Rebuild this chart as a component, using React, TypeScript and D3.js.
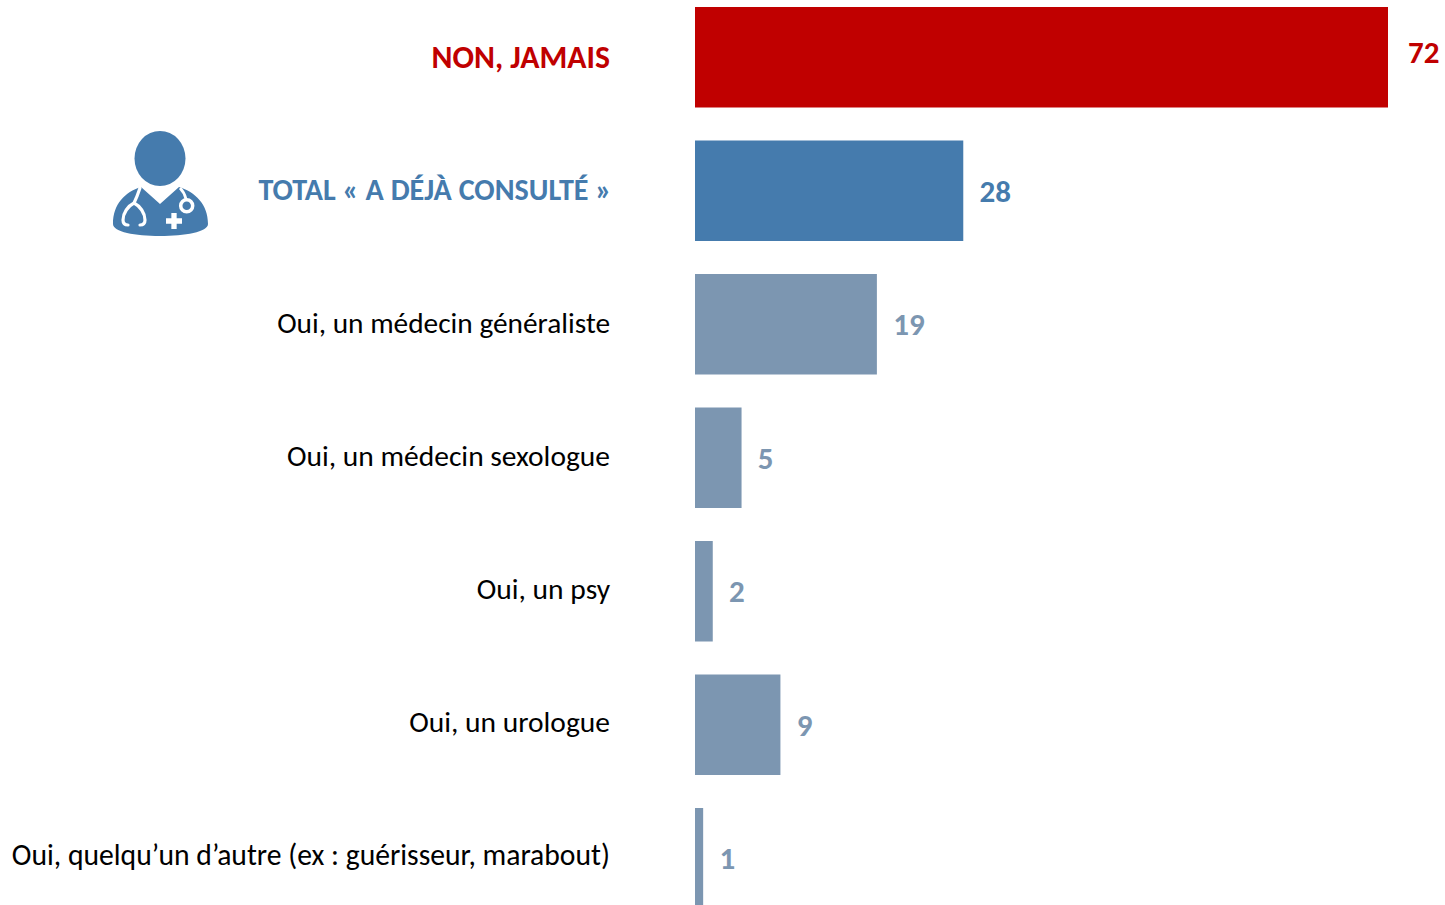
import React from "react";
import * as d3 from "d3";

const categories = [
  "NON, JAMAIS",
  "TOTAL « A DÉJÀ CONSULTÉ »",
  "Oui, un médecin généraliste",
  "Oui, un médecin sexologue",
  "Oui, un psy",
  "Oui, un urologue",
  "Oui, quelqu’un d’autre (ex : guérisseur, marabout)",
];
const values = [72.2, 27.95, 18.95, 4.85, 1.85, 8.9, 0.85];
const valueLabels = ["72", "28", "19", "5", "2", "9", "1"];
const barColors = ["#c00000", "#457bad", "#7c96b1", "#7c96b1", "#7c96b1", "#7c96b1", "#7c96b1"];
const textColors = ["#c00000", "#457bad", "#000000", "#000000", "#000000", "#000000", "#000000"];
const boldFlags = [true, true, false, false, false, false, false];
const labelSizes = [31.8, 30.1, 29.35, 29.5, 29.5, 29.5, 29.65];

const FONT = "Carlito, Calibri, Lato, sans-serif";

function DoctorIcon({ x, y }: { x: number; y: number }) {
  const c = "#457bad";
  return (
    <g transform={`translate(${x},${y})`}>
      <ellipse cx={70} cy={38.5} rx={25.5} ry={27.5} fill={c} />
      <path
        d="M51 67 L70 84 L89 67 C105 72 118 84 118 104 C118 112 95 116 70 116 C45 116 23 112 23 104 C23 84 35 72 51 67 Z"
        fill={c}
      />
      <path
        d="M50 68 C48 74 46 79 44 83 C38 86 33 93 33 100 C33 104 35 105 38 105 M44 83 C50 86 55 93 55 100 C55 104 53 105 50 105"
        fill="none"
        stroke="#fff"
        strokeWidth={3.2}
        strokeLinecap="round"
      />
      <path d="M90 68 C93 71 95 75 96 79" fill="none" stroke="#fff" strokeWidth={2.8} />
      <circle cx={96.7} cy={85.7} r={6} fill={c} stroke="#fff" strokeWidth={3.5} />
      <path d="M84 93 V109 M76 101 H92" stroke="#fff" strokeWidth={5.3} fill="none" />
    </g>
  );
}

export default function App() {
  const x = d3.scaleLinear().domain([0, 72.2]).range([695, 1388]);
  const y = d3
    .scaleBand<number>()
    .domain(d3.range(categories.length))
    .range([7, 7 + 133.5 * 7])
    .padding(0);
  const barHeight = 100.5;
  return (
    <svg
      width={1445}
      height={905}
      viewBox="0 0 1445 905"
      style={{ position: "absolute", left: 0, top: 0, background: "#fff" }}
      fontFamily={FONT}
    >
      {categories.map((cat, i) => {
        const top = y(i) as number;
        const cy = top + barHeight / 2;
        const labelY = i === 0 ? cy + 11 : cy + 9 - Math.max(0, i - 2) * 0.45;
        return (
          <g key={cat}>
            <rect x={x(0)} y={top} width={x(values[i]) - x(0)} height={barHeight} fill={barColors[i]} />
            <text
              x={i === 1 ? 611.5 : 610}
              y={labelY}
              textAnchor="end"
              fontSize={labelSizes[i]}
              fontWeight={boldFlags[i] ? 700 : 400}
              fill={textColors[i]}
            >
              {cat}
            </text>
            <text
              x={x(values[i]) + (i === 0 ? 20 : 16.3)}
              y={cy + (i === 0 ? 6 : 11)}
              fontSize={31}
              fontWeight={700}
              fill={barColors[i]}
            >
              {valueLabels[i]}
            </text>
          </g>
        );
      })}
      <DoctorIcon x={90} y={120} />
    </svg>
  );
}
